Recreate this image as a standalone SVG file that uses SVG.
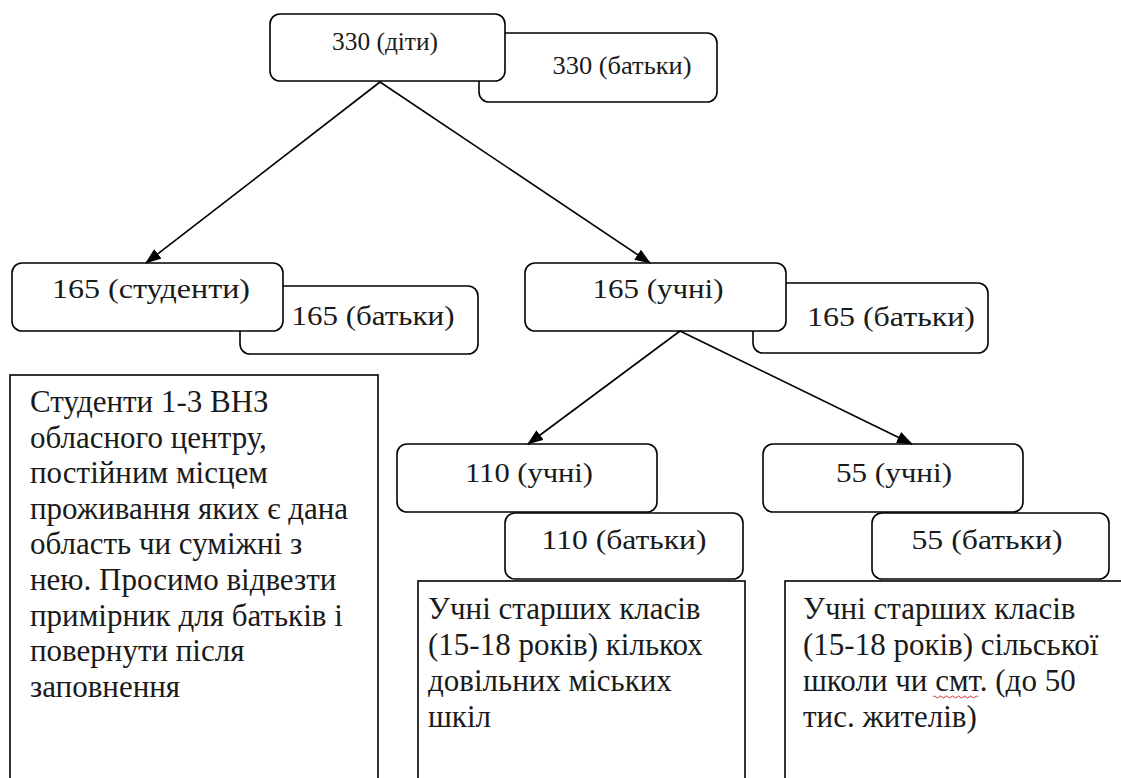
<svg xmlns="http://www.w3.org/2000/svg" width="1121" height="778" viewBox="0 0 1121 778">
<style>
.box{fill:#fff;stroke:#000;stroke-width:1.6}
.conn{stroke:#000;stroke-width:1.6;fill:none}
.t{font-family:"Liberation Serif","Times New Roman",serif;fill:#1a1a1a}
.lbl{text-anchor:middle}
.body{font-size:31px}
</style>
<defs>
<marker id="ah" markerUnits="userSpaceOnUse" markerWidth="16" markerHeight="12" refX="15" refY="6" orient="auto">
<path d="M0,0 L16,6 L0,12 Z" fill="#000"/>
</marker>
</defs>
<rect width="1121" height="778" fill="#fff"/>
<g id="n330b"><rect class="box" x="479" y="33" width="238" height="69" rx="10"/><text class="t lbl" x="622" y="74" font-size="26" textLength="139" lengthAdjust="spacingAndGlyphs">330 (батьки)</text></g>
<g id="n330"><rect class="box" x="270" y="14" width="235" height="67" rx="10"/><text class="t lbl" x="385" y="50" font-size="25" textLength="106" lengthAdjust="spacingAndGlyphs">330 (діти)</text></g>

<g id="n165sb"><rect class="box" x="240" y="286" width="238" height="68" rx="10"/><text class="t lbl" x="373" y="325" font-size="28" textLength="163" lengthAdjust="spacingAndGlyphs">165 (батьки)</text></g>
<g id="n165s"><rect class="box" x="12" y="263" width="271" height="68" rx="10"/><text class="t lbl" x="151" y="298" font-size="28" textLength="198" lengthAdjust="spacingAndGlyphs">165 (студенти)</text></g>

<g id="n165ub"><rect class="box" x="753" y="283" width="235" height="70" rx="10"/><text class="t lbl" x="891" y="326" font-size="28" textLength="168" lengthAdjust="spacingAndGlyphs">165 (батьки)</text></g>
<g id="n165u"><rect class="box" x="525" y="263" width="261" height="68" rx="10"/><text class="t lbl" x="658" y="298" font-size="28" textLength="131" lengthAdjust="spacingAndGlyphs">165 (учні)</text></g>

<g id="n110u"><rect class="box" x="397" y="444" width="260" height="68" rx="10"/><text class="t lbl" x="529" y="482" font-size="28" textLength="128" lengthAdjust="spacingAndGlyphs">110 (учні)</text></g>
<g id="n110b"><rect class="box" x="505" y="513" width="238" height="66" rx="10"/><text class="t lbl" x="624" y="549" font-size="28" textLength="165" lengthAdjust="spacingAndGlyphs">110 (батьки)</text></g>

<g id="n55u"><rect class="box" x="763" y="444" width="260" height="68" rx="10"/><text class="t lbl" x="894" y="482" font-size="28" textLength="116" lengthAdjust="spacingAndGlyphs">55 (учні)</text></g>
<g id="n55b"><rect class="box" x="872" y="513" width="237" height="66" rx="10"/><text class="t lbl" x="987" y="549" font-size="28" textLength="151" lengthAdjust="spacingAndGlyphs">55 (батьки)</text></g>

<g id="t1"><rect class="box" x="10" y="375" width="368" height="420"/>
<text class="t body" x="30" y="412">Студенти 1-3 ВНЗ</text>
<text class="t body" x="30" y="448">обласного центру,</text>
<text class="t body" x="30" y="483">постійним місцем</text>
<text class="t body" x="30" y="519">проживання яких є дана</text>
<text class="t body" x="30" y="554">область чи суміжні з</text>
<text class="t body" x="30" y="590">нею. Просимо відвезти</text>
<text class="t body" x="30" y="626">примірник для батьків і</text>
<text class="t body" x="30" y="661">повернути після</text>
<text class="t body" x="30" y="697">заповнення</text>
</g>

<g id="t2"><rect class="box" x="418" y="581" width="327" height="220"/>
<text class="t body" x="428" y="619">Учні старших класів</text>
<text class="t body" x="428" y="655">(15-18 років) кількох</text>
<text class="t body" x="428" y="691">довільних міських</text>
<text class="t body" x="428" y="727">шкіл</text>
</g>

<g id="t3"><rect class="box" x="785" y="581" width="360" height="220"/>
<text class="t body" x="803" y="619">Учні старших класів</text>
<text class="t body" x="803" y="655">(15-18 років) сільської</text>
<text class="t body" x="803" y="691">школи чи смт. (до 50</text>
<text class="t body" x="803" y="727">тис. жителів)</text>
<path id="spell" d="M933,697 q1.5,-2 3,0 t3,0 t3,0 t3,0 t3,0 t3,0 t3,0 t3,0 t3,0 t3,0 t3,0 t3,0 t3,0 t3,0 t3,0" fill="none" stroke="#d33" stroke-width="1"/>
</g>
<g id="connectors">
<line class="conn" x1="380" y1="82" x2="146" y2="263" marker-end="url(#ah)"/>
<line class="conn" x1="380" y1="82" x2="650" y2="263" marker-end="url(#ah)"/>
<line class="conn" x1="680" y1="331" x2="528" y2="444" marker-end="url(#ah)"/>
<line class="conn" x1="680" y1="331" x2="912" y2="444" marker-end="url(#ah)"/>
</g>
</svg>
